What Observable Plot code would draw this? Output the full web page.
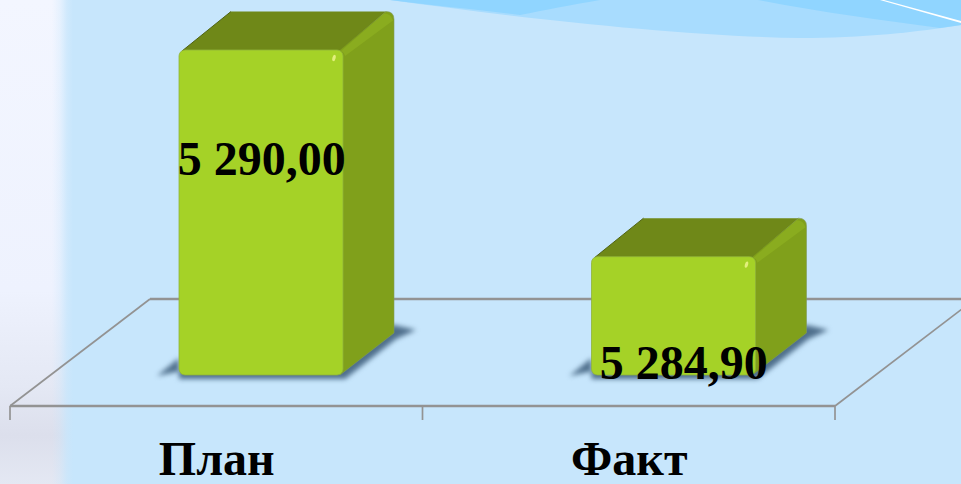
<!DOCTYPE html>
<html>
<head>
<meta charset="utf-8">
<script src="https://cdn.jsdelivr.net/npm/d3@7"></script>
<script src="https://cdn.jsdelivr.net/npm/@observablehq/plot@0.6"></script>
<style>
html,body{margin:0;padding:0;width:961px;height:484px;overflow:hidden;background:#c7e6fc}
#stage{position:relative;width:961px;height:484px;overflow:hidden;
  background:
   linear-gradient(90deg,rgba(199,230,252,0) 0,rgba(199,230,252,0) 52px,rgba(199,230,252,.3) 60px,rgba(199,230,252,.8) 67px,#c7e6fc 73px),
   linear-gradient(180deg,#f3f6ff 0,#eef2fe 60%,#e4e8f4 80%,#dcdfec 90%,#e4e8f3 100%);}
.deco{position:absolute;left:0;top:0;width:961px;height:484px}
#sw1{background:#a8dcfe;clip-path:path("M390 0 C520 18 680 36 800 38 C860 38 920 32 961 25 L961 0 Z")}
#sw2{background:#90d5ff;clip-path:path("M390 0 L600 0 C570 5 545 10 520 15 C480 10 430 5 390 0 Z M758 0 L961 0 L961 25 L940 28 C880 20 820 12 758 0 Z")}
#sw3{background:#fff;clip-path:polygon(880px 0,884px 0,961px 21px,961px 23px)}
#chart{position:absolute;left:0;top:0}
svg{display:block}
</style>
</head>
<body>
<div id="stage">
  <div class="deco" id="sw1"></div>
  <div class="deco" id="sw2"></div>
  <div class="deco" id="sw3"></div>
  <div id="chart"></div>
</div>
<script>
const categories = ["План", "Факт"];
const values = [5290.00, 5284.90];
const valueLabels = ["5 290,00", "5 284,90"];
const axisBase = 5281.98;

const rows = categories.map((c, i) => ({category: c, value: values[i], label: valueLabels[i]}));

const insetL = 169, insetR = 79.5;
const depthX = 51, depthY = 38.5;
const ns = "http://www.w3.org/2000/svg";

function el(parent, name, attrs) {
  const e = document.createElementNS(ns, name);
  for (const k in attrs) e.setAttribute(k, attrs[k]);
  parent.appendChild(e);
  return e;
}

// Floor of the 3D chart, derived from the x and y scales
function floorMark(index, scales) {
  const g = document.createElementNS(ns, "g");
  const x0 = scales.x(categories[0]);
  const x1 = scales.x(categories[1]);
  const x2 = x1 + (x1 - x0);
  const yf = scales.y(axisBase) + 31;
  const fx = 140, fy = 107;
  const line = (a, b, c, d, w) => el(g, "line", {x1: a, y1: b, x2: c, y2: d, stroke: "#939393", "stroke-width": w});
  line(x0, yf, x2, yf, 2.4);
  line(x0 + fx, yf - fy, x2 + fx, yf - fy, 2.4);
  line(x0, yf, x0 + fx, yf - fy, 1.7);
  line(x2, yf, x2 + fx, yf - fy, 1.7);
  for (const t of [x0, x1, x2]) line(t, yf, t, yf + 14, 1.7);
  return g;
}

// Shadow, side and top faces, derived from each bar's position
function faces(index, scales) {
  const g = document.createElementNS(ns, "g");
  rows.forEach(d => {
    const l = scales.x(d.category) + insetL;
    const R = scales.x(d.category) + (scales.x(categories[1]) - scales.x(categories[0])) - insetR;
    const t = scales.y(d.value);
    const b = scales.y(axisBase);
    el(g, "path", {
      d: `M${l - 22} ${b + 1} L${l} ${b - 17} L${l} ${b + 4} L${R + 2} ${b + 4} L${R + depthX + 2} ${b - 36} L${R + depthX + 22} ${b - 45} L${R + depthX} ${b - 50} Z`,
      fill: "#4f6f8c", style: "filter:blur(2.5px)"
    });
    // side
    el(g, "path", {
      d: `M${R - 4} ${t} L${R + depthX - 8} ${t - depthY} Q${R + depthX} ${t - depthY} ${R + depthX} ${t - depthY + 8} L${R + depthX} ${b - 42} L${R - 3} ${b} Z`,
      fill: "#80a01b", stroke: "#7f9a5c", "stroke-width": 0.6
    });
    // top
    el(g, "path", {
      d: `M${l + 3} ${t + 1} L${l + depthX + 1} ${t - depthY} L${R + depthX - 8} ${t - depthY} L${R - 4} ${t + 1} Z`,
      fill: "#6f8818"
    });
    // dark diagonal edge
    el(g, "line", {x1: l + 3, y1: t + 1, x2: l + depthX + 1, y2: t - depthY, stroke: "#4f6212", "stroke-width": 1});
    // light bevel along the top right edge
    el(g, "path", {
      d: `M${R - 2} ${t + 1} L${R + depthX - 10} ${t - depthY + 2} Q${R + depthX - 3} ${t - depthY + 2} ${R + depthX - 1} ${t - depthY + 9} L${R + 2} ${t + 6} Q${R + 1} ${t + 2} ${R - 2} ${t + 1} Z`,
      fill: "#8aac1f"
    });
  });
  return g;
}

// Small highlight on each front face
function glints(index, scales) {
  const g = document.createElementNS(ns, "g");
  rows.forEach(d => {
    const R = scales.x(d.category) + (scales.x(categories[1]) - scales.x(categories[0])) - insetR;
    const t = scales.y(d.value);
    el(g, "ellipse", {cx: R - 9, cy: t + 8, rx: 1.6, ry: 3.2, fill: "#e2ef7c", transform: `rotate(15 ${R - 9} ${t + 8})`});
  });
  return g;
}

const textStyle = {fontFamily: "'Liberation Serif', serif", fontWeight: "bold", fontSize: 48, fill: "#000"};

const plot = Plot.plot({
  width: 961,
  height: 484,
  marginLeft: 10,
  marginRight: 126,
  marginBottom: 78,
  marginTop: 0,
  style: {background: "transparent"},
  x: {domain: categories, range: [10, 835], padding: 0, round: false, label: null},
  y: {domain: [axisBase, 5290], range: [375, 50], axis: null},
  marks: [
    floorMark,
    faces,
    Plot.barY(rows, {
      x: "category", y1: () => axisBase, y2: "value",
      insetLeft: insetL, insetRight: insetR, rx: 6,
      fill: "#a5d227", stroke: "#8fb23a", strokeWidth: 0.8
    }),
    glints,
    Plot.text(rows.slice(0, 1), {x: "category", y: "value", text: "label", dx: 45, dy: 109, ...textStyle}),
    Plot.text(rows.slice(1), {x: "category", y: "value", text: "label", dx: 54.5, dy: 106, ...textStyle}),
    Plot.axisX({
      anchor: "bottom", tickSize: 0, tickPadding: 34, label: null,
      fontFamily: "'Liberation Serif', serif", fontWeight: "bold", fontSize: 48, fill: "#000"
    })
  ]
});
document.getElementById("chart").appendChild(plot);
</script>
</body>
</html>
